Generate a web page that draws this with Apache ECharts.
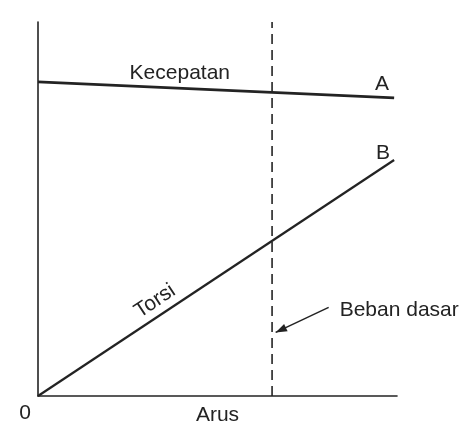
<!DOCTYPE html>
<html>
<head>
<meta charset="utf-8">
<style>
  html, body { margin: 0; padding: 0; background: #ffffff; }
  #chart { width: 467px; height: 430px; }
</style>
<script src="https://cdn.jsdelivr.net/npm/echarts@6/dist/echarts.min.js"></script>
</head>
<body>
<div id="chart"></div>
<script>
// Arus (current) on x, relative scale 0..100
const arus = [0, 99.2];
// Kecepatan (speed) – almost flat, falls slightly with current
const kecepatan = [84.0, 79.7];
// Torsi (torque) – rises linearly from the origin
const torsi = [0, 63.1];
// Beban dasar (base load) position on the current axis
const bebanDasar = 65.2;

const axisMax = 100;
const ink = '#232323';
const font = '"Liberation Sans", Arial, sans-serif';

const chart = echarts.init(document.getElementById('chart'), null, { renderer: 'canvas' });

chart.setOption({
  animation: false,
  backgroundColor: '#ffffff',
  grid: { left: 38, right: 70, top: 22, bottom: 34, outerBoundsMode: 'none', containLabel: false },
  xAxis: {
    type: 'value', min: 0, max: axisMax,
    name: 'Arus', nameLocation: 'middle', nameGap: 9,
    nameTextStyle: { color: ink, fontSize: 21, fontFamily: font, verticalAlign: 'top' },
    axisLine: { show: true, lineStyle: { color: ink, width: 1.6 } },
    axisTick: { show: false }, axisLabel: { show: false }, splitLine: { show: false }
  },
  yAxis: {
    type: 'value', min: 0, max: axisMax,
    axisLine: { show: true, lineStyle: { color: ink, width: 1.6 } },
    axisTick: { show: false }, axisLabel: { show: false }, splitLine: { show: false }
  },
  series: [
    {
      name: 'A', type: 'line', symbol: 'none',
      data: arus.map((x, i) => [x, kecepatan[i]]),
      lineStyle: { color: ink, width: 2.6 }
    },
    {
      name: 'B', type: 'line', symbol: 'none',
      data: arus.map((x, i) => [x, torsi[i]]),
      lineStyle: { color: ink, width: 2.2 }
    },
    {
      name: 'Beban dasar', type: 'line', symbol: 'none',
      data: [[bebanDasar, 0], [bebanDasar, axisMax]],
      lineStyle: { color: ink, width: 1.6, type: [10, 6] }
    }
  ]
});

// Annotations placed from data coordinates
const px = (x, y) => chart.convertToPixel({ gridIndex: 0 }, [x, y]);
const textStyle = (t, extra) => Object.assign({
  text: t, fill: ink, fontSize: 21, fontFamily: font, align: 'center', verticalAlign: 'middle'
}, extra || {});

const origin = px(0, 0);
const endA = px(arus[1], kecepatan[1]);
const endB = px(arus[1], torsi[1]);
const kecMid = px(39.5, kecepatan[0] + (kecepatan[1] - kecepatan[0]) * 39.5 / arus[1]);
const torMid = px(34, torsi[1] * 34 / arus[1]);
const angle = Math.atan2(endB[1] - origin[1], endB[0] - origin[0]);

const arrowTip = px(bebanDasar + 1, 17);
const arrowTail = [arrowTip[0] + 53, arrowTip[1] - 25];
const ang = Math.atan2(arrowTip[1] - arrowTail[1], arrowTip[0] - arrowTail[0]);
const head = 12, spread = 0.35;
const h1 = [arrowTip[0] - head * Math.cos(ang - spread), arrowTip[1] - head * Math.sin(ang - spread)];
const h2 = [arrowTip[0] - head * Math.cos(ang + spread), arrowTip[1] - head * Math.sin(ang + spread)];

chart.setOption({
  graphic: [
    { type: 'text', x: origin[0] - 13, y: origin[1] + 17, style: textStyle('0') },
    { type: 'text', x: kecMid[0], y: kecMid[1] - 15, style: textStyle('Kecepatan') },
    { type: 'text', x: endA[0] - 12, y: endA[1] - 14, style: textStyle('A') },
    { type: 'text', x: endB[0] - 11, y: endB[1] - 7, style: textStyle('B') },
    {
      type: 'text', x: torMid[0] - 5, y: torMid[1] - 14, rotation: -angle,
      style: textStyle('Torsi')
    },
    {
      type: 'line',
      shape: { x1: arrowTail[0], y1: arrowTail[1], x2: arrowTip[0], y2: arrowTip[1] },
      style: { stroke: ink, lineWidth: 1.5 }
    },
    {
      type: 'polygon',
      shape: { points: [arrowTip, h1, h2] },
      style: { fill: ink }
    },
    {
      type: 'text', x: arrowTail[0] + 11, y: arrowTail[1] + 3,
      style: textStyle('Beban dasar', { align: 'left' })
    }
  ]
});
</script>
</body>
</html>
